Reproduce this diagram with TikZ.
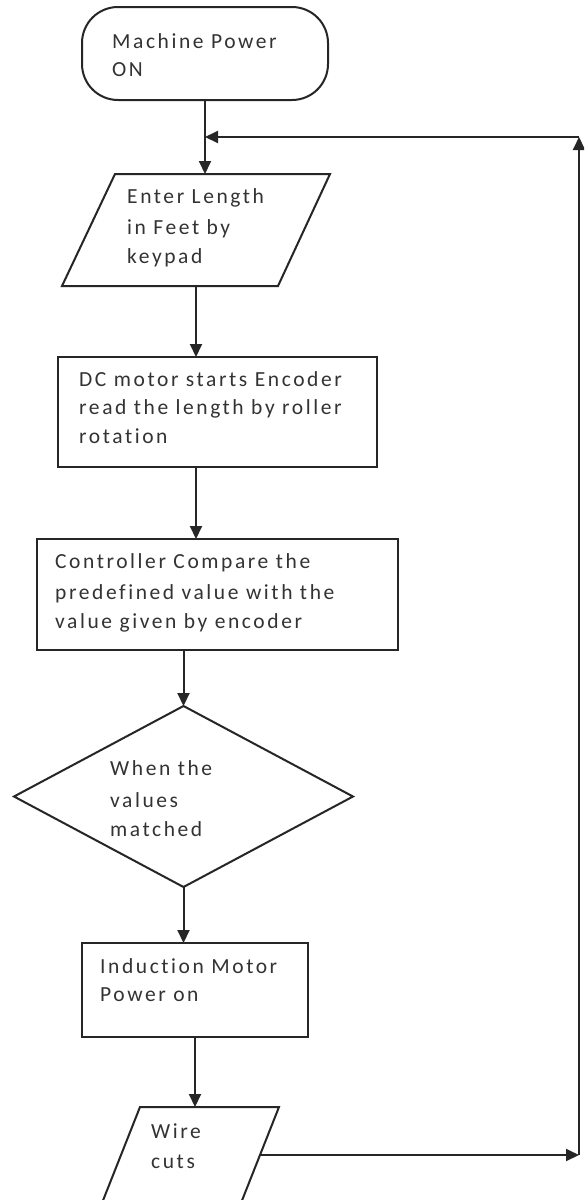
\documentclass[tikz,border=0pt]{standalone}
\usepackage{fontspec}
\setmainfont{Carlito}[LetterSpace=12,Ligatures=CommonOff]
\usetikzlibrary{arrows.meta,shapes.geometric}
\begin{document}
\begin{tikzpicture}[x=1pt,y=-1pt,
  shp/.style={draw=black!85, line width=2pt, inner sep=0pt, outer sep=0pt, fill=white},
  lbl/.style={anchor=base west, inner sep=0pt, text=black!80, font=\fontsize{21.5}{29.5}\selectfont},
  arr/.style={draw=black!85, line width=2pt, -{Triangle[length=13pt,width=12pt]}}]
\useasboundingbox (0,0) rectangle (584,1200);
\clip (0,0) rectangle (584,1200);
\fill[white] (0,0) rectangle (584,1200);

% shapes
\node[shp, rectangle, rounded corners=36pt, minimum width=246pt, minimum height=93pt] (term) at (205,53.5) {};
\coordinate (p1tl) at (115,174);
\coordinate (p1tr) at (330,174);
\coordinate (p1br) at (278,286);
\coordinate (p1bl) at (62,286);
\coordinate (p1s) at (196,286);
\draw[shp] (p1tl) -- (p1tr) -- (p1br) -- (p1bl) -- cycle;
\node[shp, rectangle, minimum width=319pt, minimum height=110pt] (rect1) at (217.5,412) {};
\node[shp, rectangle, minimum width=361pt, minimum height=111pt] (rect2) at (217.5,594.5) {};
\node[shp, diamond, minimum width=339pt, minimum height=181pt] (dia) at (183.5,796.5) {};
\node[shp, rectangle, minimum width=226pt, minimum height=94pt] (rect3) at (195,990) {};
\coordinate (p2tl) at (140,1107);
\coordinate (p2tr) at (279,1107);
\coordinate (p2br) at (241,1203);
\coordinate (p2bl) at (102,1203);
\coordinate (p2e) at (260,1155);
\draw[shp] (p2tl) -- (p2tr) -- (p2br) -- (p2bl) -- cycle;

% labels
\node[lbl] (t1a) at (112,48) {Machine Power};
\node[lbl] (t1b) at (112,76) {ON};
\node[lbl] (t2a) at (127,203) {Enter Length};
\node[lbl] (t2b) at (127,234) {in Feet by};
\node[lbl] (t2c) at (127,263) {keypad};
\node[lbl] (t3a) at (79,386) {DC motor starts Encoder};
\node[lbl] (t3b) at (79,414) {read the length by roller};
\node[lbl] (t3c) at (79,443) {rotation};
\node[lbl] (t4a) at (55,568) {Controller Compare the};
\node[lbl] (t4b) at (55,599) {predefined value with the};
\node[lbl] (t4c) at (55,628) {value given by encoder};
\node[lbl] (t5a) at (110,775) {When the};
\node[lbl] (t5b) at (110,807) {values};
\node[lbl] (t5c) at (110,836) {matched};
\node[lbl] (t6a) at (100,973) {Induction Motor};
\node[lbl] (t6b) at (100,1001) {Power on};
\node[lbl] (t7a) at (151,1138) {Wire};
\node[lbl] (t7b) at (151,1168) {cuts};

% connectors
\draw[arr] (term.south) -- (term.south |- p1tl);
\draw[arr] (p1s) -- (p1s |- rect1.north);
\draw[arr] ([xshift=-21.5pt]rect1.south) -- ([xshift=-21.5pt]rect1.south |- rect2.north);
\draw[arr] (dia.north |- rect2.south) -- (dia.north);
\draw[arr] (dia.south) -- (dia.south |- rect3.north);
\draw[arr] (rect3.south) -- (rect3.south |- p2tl);
\coordinate (br) at (579,1155);
\coordinate (tr) at (579,137);
\draw[arr] (p2e) -- (br);
\draw[arr] (br) -- (tr);
\draw[arr] (tr) -- (term.south |- tr);
\end{tikzpicture}
\end{document}
